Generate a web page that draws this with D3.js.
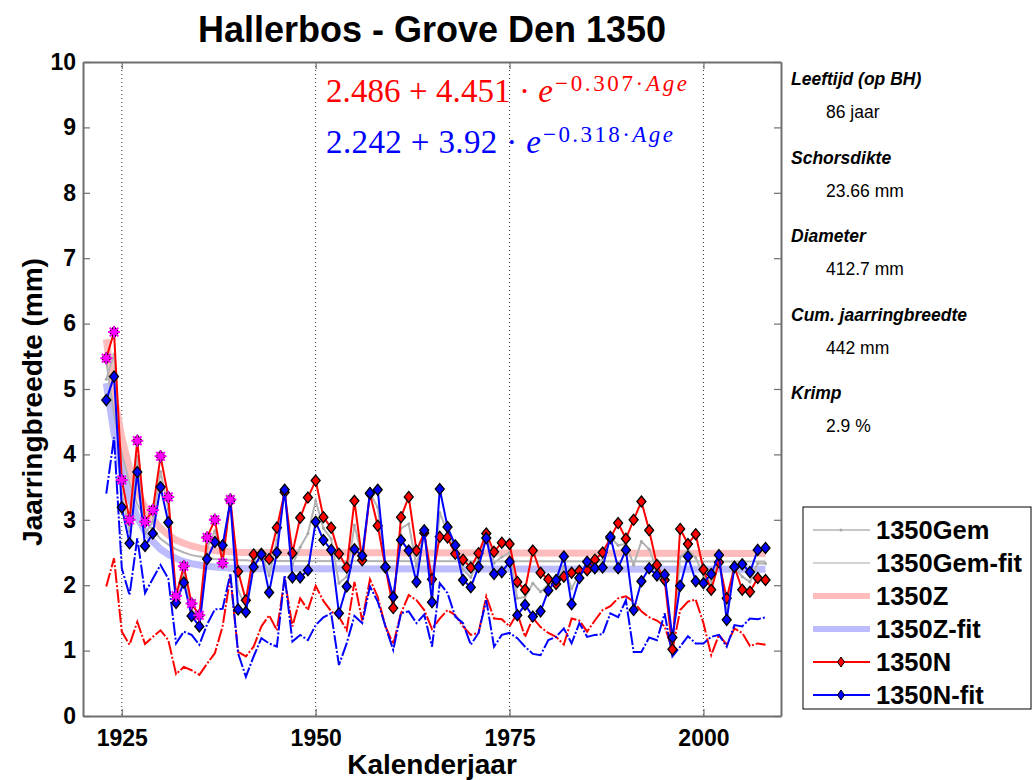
<!DOCTYPE html>
<html>
<head>
<meta charset="utf-8">
<script src="https://d3js.org/d3.v7.min.js"></script>
<style>
  body { margin: 0; background: #fff; }
  text { font-family: "Liberation Sans", Arial, sans-serif; }
  text.math { font-family: "Liberation Serif", "DejaVu Serif", serif; }
</style>
</head>
<body>
<div id="chart"></div>
<script>
// years 1923..2008
const firstYear = 1923;
const years = d3.range(firstYear, 2009);

// 1350N (red, diamonds)
const redN = [5.47, 5.87, 3.61, 3.00, 4.21, 2.97, 3.15, 3.97, 3.35, 1.84,
  2.29, 1.72, 1.54, 2.73, 3.00, 2.34, 3.31, 2.21, 1.77, 2.47,
  2.48, 2.40, 2.88, 3.42, 2.49, 3.03, 3.34, 3.60, 3.04, 2.88,
  2.48, 2.27, 3.29, 2.38, 3.40, 2.91, 2.27, 1.65, 3.04, 3.35,
  2.53, 2.80, 2.09, 2.74, 2.73, 2.48, 2.39, 2.27, 2.49, 2.79,
  2.51, 2.65, 2.63, 2.05, 1.93, 2.53, 2.19, 2.09, 2.02, 2.13,
  2.19, 2.22, 2.23, 2.39, 2.50, 2.72, 2.95, 2.71, 3.00, 3.28,
  2.84, 2.31, 2.08, 1.02, 2.86, 2.63, 2.78, 2.24, 1.93, 2.35,
  1.80, 2.28, 1.93, 1.90, 2.11, 2.08];

// 1350N-fit (blue, diamonds)
const blueN = [4.83, 5.19, 3.19, 2.64, 3.73, 2.60, 2.79, 3.50, 2.96, 1.73,
  2.04, 1.53, 1.37, 2.40, 2.66, 2.61, 3.29, 1.63, 1.59, 2.28,
  2.47, 1.89, 2.50, 3.46, 2.12, 2.12, 2.23, 2.97, 2.69, 2.54,
  1.57, 1.98, 2.55, 2.45, 3.41, 3.46, 2.28, 1.82, 2.69, 2.53,
  2.05, 2.84, 1.74, 3.47, 2.89, 2.61, 2.08, 1.97, 2.28, 2.72,
  2.17, 2.20, 2.36, 1.54, 1.70, 1.52, 1.60, 1.92, 2.08, 2.44,
  1.71, 2.11, 2.36, 2.26, 2.27, 2.74, 2.26, 2.54, 1.62, 2.06,
  2.26, 2.15, 2.16, 1.20, 1.99, 2.44, 2.06, 2.03, 2.17, 2.46,
  1.47, 2.28, 2.32, 2.20, 2.54, 2.57];

// 1350Gem (gray, dots)
const gem = [5.15, 5.53, 3.40, 2.82, 3.97, 2.79, 2.97, 3.74, 3.16, 1.79,
  2.17, 1.63, 1.46, 2.57, 2.83, 2.48, 3.30, 1.92, 1.68, 2.38,
  2.48, 2.15, 2.69, 3.44, 2.31, 2.58, 2.79, 3.29, 2.87, 2.71,
  2.03, 2.13, 2.92, 2.42, 3.41, 3.19, 2.28, 1.74, 2.87, 2.94,
  2.29, 2.82, 1.92, 3.11, 2.81, 2.55, 2.24, 2.12, 2.39, 2.76,
  2.34, 2.43, 2.50, 1.80, 1.82, 2.03, 1.90, 2.01, 2.05, 2.29,
  1.95, 2.17, 2.30, 2.33, 2.39, 2.73, 2.61, 2.63, 2.31, 2.67,
  2.55, 2.23, 2.12, 1.11, 2.43, 2.54, 2.42, 2.14, 2.05, 2.41,
  1.64, 2.28, 2.13, 2.05, 2.33, 2.33];

// lower dash-dot series
const redLow = [1.98, 2.41, 1.29, 1.09, 1.44, 1.10, 1.21, 1.31, 1.16, 0.64,
  0.75, 0.70, 0.63, 0.80, 0.96, 1.37, 2.13, 0.98, 0.91, 1.06,
  1.37, 1.54, 1.31, 2.10, 1.37, 1.80, 1.62, 1.99, 1.76, 1.60,
  1.52, 1.31, 2.05, 1.46, 2.09, 1.82, 1.37, 1.10, 1.57, 1.85,
  1.77, 1.62, 1.33, 1.49, 1.62, 1.54, 1.37, 1.24, 1.27, 1.83,
  1.49, 1.48, 1.37, 1.57, 1.21, 1.50, 1.36, 1.27, 1.21, 1.09,
  1.49, 1.46, 1.29, 1.46, 1.62, 1.68, 1.80, 1.83, 1.75, 1.60,
  1.51, 1.46, 1.37, 1.01, 1.62, 1.75, 1.78, 1.42, 0.93, 1.24,
  1.09, 1.34, 1.27, 1.07, 1.11, 1.09];

const blueLow = [3.40, 4.26, 2.26, 1.85, 2.72, 1.88, 2.10, 2.31, 2.10, 1.11,
  1.29, 1.24, 1.09, 1.40, 1.63, 1.64, 2.18, 0.96, 0.60, 0.91,
  1.19, 1.11, 1.06, 2.15, 1.14, 1.24, 1.16, 1.39, 1.51, 1.57,
  0.78, 1.11, 1.53, 1.42, 1.98, 1.75, 1.37, 1.01, 1.57, 1.60,
  1.42, 1.55, 1.06, 2.03, 1.88, 1.52, 1.42, 1.09, 1.27, 1.77,
  1.06, 1.24, 1.27, 1.19, 1.06, 0.95, 0.93, 1.16, 1.21, 1.34,
  1.11, 1.42, 1.21, 1.24, 1.25, 1.57, 1.51, 1.77, 0.98, 0.98,
  1.20, 1.16, 1.57, 0.91, 1.06, 1.22, 1.11, 1.11, 1.21, 1.24,
  1.06, 1.39, 1.37, 1.49, 1.48, 1.51];

// fitted curves (years 1923..1942, then flat to 2008)
const fitYears = [1923, 1924, 1925, 1926, 1927, 1928, 1929, 1930, 1931, 1932,
  1933, 1934, 1935, 1936, 1937, 1938, 1939, 1940, 1941, 1942, 2008];
const fitZ = [5.76, 4.90, 4.26, 3.79, 3.45, 3.19, 3.01, 2.87, 2.77, 2.69,
  2.64, 2.60, 2.57, 2.55, 2.53, 2.52, 2.51, 2.50, 2.50, 2.50, 2.486];
const fitZfit = [5.09, 4.32, 3.75, 3.34, 3.04, 2.82, 2.67, 2.55, 2.47, 2.41,
  2.36, 2.33, 2.31, 2.29, 2.28, 2.27, 2.26, 2.26, 2.25, 2.25, 2.242];
const fitGem = [5.43, 4.61, 4.01, 3.57, 3.24, 3.01, 2.84, 2.71, 2.62, 2.55,
  2.50, 2.46, 2.44, 2.42, 2.40, 2.39, 2.39, 2.38, 2.38, 2.37, 2.364];

// juvenile years marked with asterisks
const starYears = d3.range(1923, 1940);

const xTicks = [1925, 1950, 1975, 2000];
const yTicks = [0, 1, 2, 3, 4, 5, 6, 7, 8, 9, 10];

const infoLabels = ["Leeftijd (op BH)", "Schorsdikte", "Diameter", "Cum. jaarringbreedte", "Krimp"];
const infoValues = ["86 jaar", "23.66 mm", "412.7 mm", "442 mm", "2.9 %"];

const legendNames = ["1350Gem", "1350Gem-fit", "1350Z", "1350Z-fit", "1350N", "1350N-fit"];

const W = 1032, H = 780;
const svg = d3.select("#chart").append("svg")
  .attr("width", W).attr("height", H)
  .style("display", "block");

const plot = { left: 83, right: 781, top: 62, bottom: 716 };
const x = d3.scaleLinear().domain([1920, 2010]).range([plot.left, plot.right]);
const y = d3.scaleLinear().domain([0, 10]).range([plot.bottom, plot.top]);

// title
svg.append("text")
  .attr("x", 432).attr("y", 42)
  .attr("text-anchor", "middle")
  .attr("font-size", 36).attr("font-weight", "bold")
  .text("Hallerbos - Grove Den 1350");

// vertical dotted grid
svg.append("g").selectAll("line")
  .data(xTicks).enter().append("line")
  .attr("x1", d => x(d)).attr("x2", d => x(d))
  .attr("y1", plot.top).attr("y2", plot.bottom)
  .attr("stroke", "#333").attr("stroke-width", 1)
  .attr("stroke-dasharray", "1,3");

const line = d3.line().x(d => x(d[0])).y(d => y(d[1]));
const pair = (xs, vs) => xs.map((yr, i) => [yr, vs[i]]);

// fit curves
svg.append("path").datum(pair(fitYears, fitZ))
  .attr("d", line).attr("fill", "none")
  .attr("stroke", "#ffbcbc").attr("stroke-width", 7);
svg.append("path").datum(pair(fitYears, fitZfit))
  .attr("d", line).attr("fill", "none")
  .attr("stroke", "#bcbcff").attr("stroke-width", 7);
svg.append("path").datum(pair(fitYears, fitGem))
  .attr("d", line).attr("fill", "none")
  .attr("stroke", "#b4b4b4").attr("stroke-width", 2);

// Gem series
svg.append("path").datum(pair(years, gem))
  .attr("d", line).attr("fill", "none")
  .attr("stroke", "#b4b4b4").attr("stroke-width", 2);
svg.append("g").selectAll("circle")
  .data(pair(years, gem)).enter().append("circle")
  .attr("cx", d => x(d[0])).attr("cy", d => y(d[1]))
  .attr("r", 1.5).attr("fill", "#a8a8a8");

// lower dash-dot series
svg.append("path").datum(pair(years, redLow))
  .attr("d", line).attr("fill", "none")
  .attr("stroke", "#ff0000").attr("stroke-width", 2)
  .attr("stroke-dasharray", "14,2,2,2");
svg.append("path").datum(pair(years, blueLow))
  .attr("d", line).attr("fill", "none")
  .attr("stroke", "#0000ff").attr("stroke-width", 2)
  .attr("stroke-dasharray", "14,2,2,2");

const diamond = "M0,-5.5L4.5,0L0,5.5L-4.5,0Z";

function drawSeries(vals, color) {
  svg.append("path").datum(pair(years, vals))
    .attr("d", line).attr("fill", "none")
    .attr("stroke", color).attr("stroke-width", 2);
  svg.append("g").selectAll("path")
    .data(pair(years, vals)).enter().append("path")
    .attr("d", diamond)
    .attr("transform", d => `translate(${x(d[0])},${y(d[1])})`)
    .attr("fill", color).attr("stroke", "#000").attr("stroke-width", 1.3);
}
drawSeries(redN, "#ff0000");
drawSeries(blueN, "#0000ff");

// asterisks on juvenile years
const star = "M-6,0H6M0,-6V6M-4.3,-4.3L4.3,4.3M-4.3,4.3L4.3,-4.3";
svg.append("g").selectAll("path")
  .data(starYears).enter().append("path")
  .attr("d", star)
  .attr("transform", d => `translate(${x(d)},${y(redN[d - firstYear])})`)
  .attr("fill", "none").attr("stroke", "#ff00ff").attr("stroke-width", 2);

// axes (box with inward ticks)
const axisColor = "#6e6e6e";
const gB = svg.append("g").attr("transform", `translate(0,${plot.bottom})`)
  .call(d3.axisBottom(x).tickValues(xTicks).tickFormat(d3.format("d")).tickSizeInner(-7).tickSizeOuter(0).tickPadding(14));
const gT = svg.append("g").attr("transform", `translate(0,${plot.top})`)
  .call(d3.axisTop(x).tickValues(xTicks).tickFormat("").tickSizeInner(-7).tickSizeOuter(0));
const gL = svg.append("g").attr("transform", `translate(${plot.left},0)`)
  .call(d3.axisLeft(y).tickValues(yTicks).tickSizeInner(-7).tickSizeOuter(0).tickPadding(7));
const gR = svg.append("g").attr("transform", `translate(${plot.right},0)`)
  .call(d3.axisRight(y).tickValues(yTicks).tickFormat("").tickSizeInner(-7).tickSizeOuter(0));

[gB, gT, gL, gR].forEach(g => {
  g.selectAll("path.domain").attr("stroke", axisColor).attr("stroke-width", 2);
  g.selectAll(".tick line").attr("stroke", axisColor).attr("stroke-width", 1.2);
  g.selectAll(".tick text")
    .attr("fill", "#000").attr("font-size", 23).attr("font-weight", "bold");
});

// axis labels
svg.append("text")
  .attr("x", 432).attr("y", 774)
  .attr("text-anchor", "middle")
  .attr("font-size", 28).attr("font-weight", "bold")
  .text("Kalenderjaar");
svg.append("text")
  .attr("transform", "translate(42,402) rotate(-90)")
  .attr("text-anchor", "middle")
  .attr("font-size", 28).attr("font-weight", "bold")
  .text("Jaarringbreedte (mm)");

// equations (base part and superscript stretched to the reference widths)
function equation(yPos, color, a, b, c, baseW, supW) {
  const t = svg.append("text")
    .attr("class", "math")
    .attr("x", 326).attr("y", yPos)
    .attr("fill", color)
    .attr("font-size", 33)
    .attr("textLength", baseW).attr("lengthAdjust", "spacing");
  t.append("tspan").text(`${a} + ${b} · `);
  t.append("tspan").attr("font-style", "italic").text("e");
  const s = svg.append("text")
    .attr("class", "math")
    .attr("x", 326 + baseW + 2).attr("y", yPos - 11)
    .attr("fill", color)
    .attr("font-size", 23)
    .attr("textLength", supW).attr("lengthAdjust", "spacing");
  s.append("tspan").text(`\u2212${c}·`);
  s.append("tspan").attr("font-style", "italic").text("Age");
}
equation(102, "#ff0000", "2.486", "4.451", "0.307", 227, 132);
equation(153, "#0000ff", "2.242", "3.92", "0.318", 215, 130);

// info panel
infoLabels.forEach((lab, i) => {
  svg.append("text")
    .attr("x", 791).attr("y", 85 + i * 78.5)
    .attr("font-size", 17.5).attr("font-weight", "bold").attr("font-style", "italic")
    .text(lab);
  svg.append("text")
    .attr("x", 826).attr("y", 118 + i * 78.5)
    .attr("font-size", 17.5)
    .text(infoValues[i]);
});

// legend
const lg = svg.append("g");
lg.append("rect")
  .attr("x", 803).attr("y", 507).attr("width", 228).attr("height", 202)
  .attr("fill", "#fff").attr("stroke", "#000").attr("stroke-width", 1);
const legendStyle = [
  { stroke: "#b4b4b4", width: 1.5, marker: "dot", fill: "#a8a8a8" },
  { stroke: "#c4c4c4", width: 1.5 },
  { stroke: "#ffbcbc", width: 6 },
  { stroke: "#bcbcff", width: 6 },
  { stroke: "#ff0000", width: 2, marker: "diamond", fill: "#ff0000" },
  { stroke: "#0000ff", width: 2, marker: "diamond", fill: "#0000ff" }
];
legendNames.forEach((name, i) => {
  const ly = 530 + i * 33;
  const st = legendStyle[i];
  lg.append("line")
    .attr("x1", 813).attr("x2", 870).attr("y1", ly).attr("y2", ly)
    .attr("stroke", st.stroke).attr("stroke-width", st.width);
  if (st.marker === "dot") {
    lg.append("circle").attr("cx", 841).attr("cy", ly).attr("r", 1.5).attr("fill", st.fill);
  } else if (st.marker === "diamond") {
    lg.append("path").attr("d", "M0,-5L3.5,0L0,5L-3.5,0Z")
      .attr("transform", `translate(841,${ly})`)
      .attr("fill", st.fill).attr("stroke", "#000").attr("stroke-width", 1);
  }
  lg.append("text")
    .attr("x", 876).attr("y", ly + 9)
    .attr("font-size", 25.5).attr("font-weight", "bold")
    .text(name);
});
</script>
</body>
</html>
